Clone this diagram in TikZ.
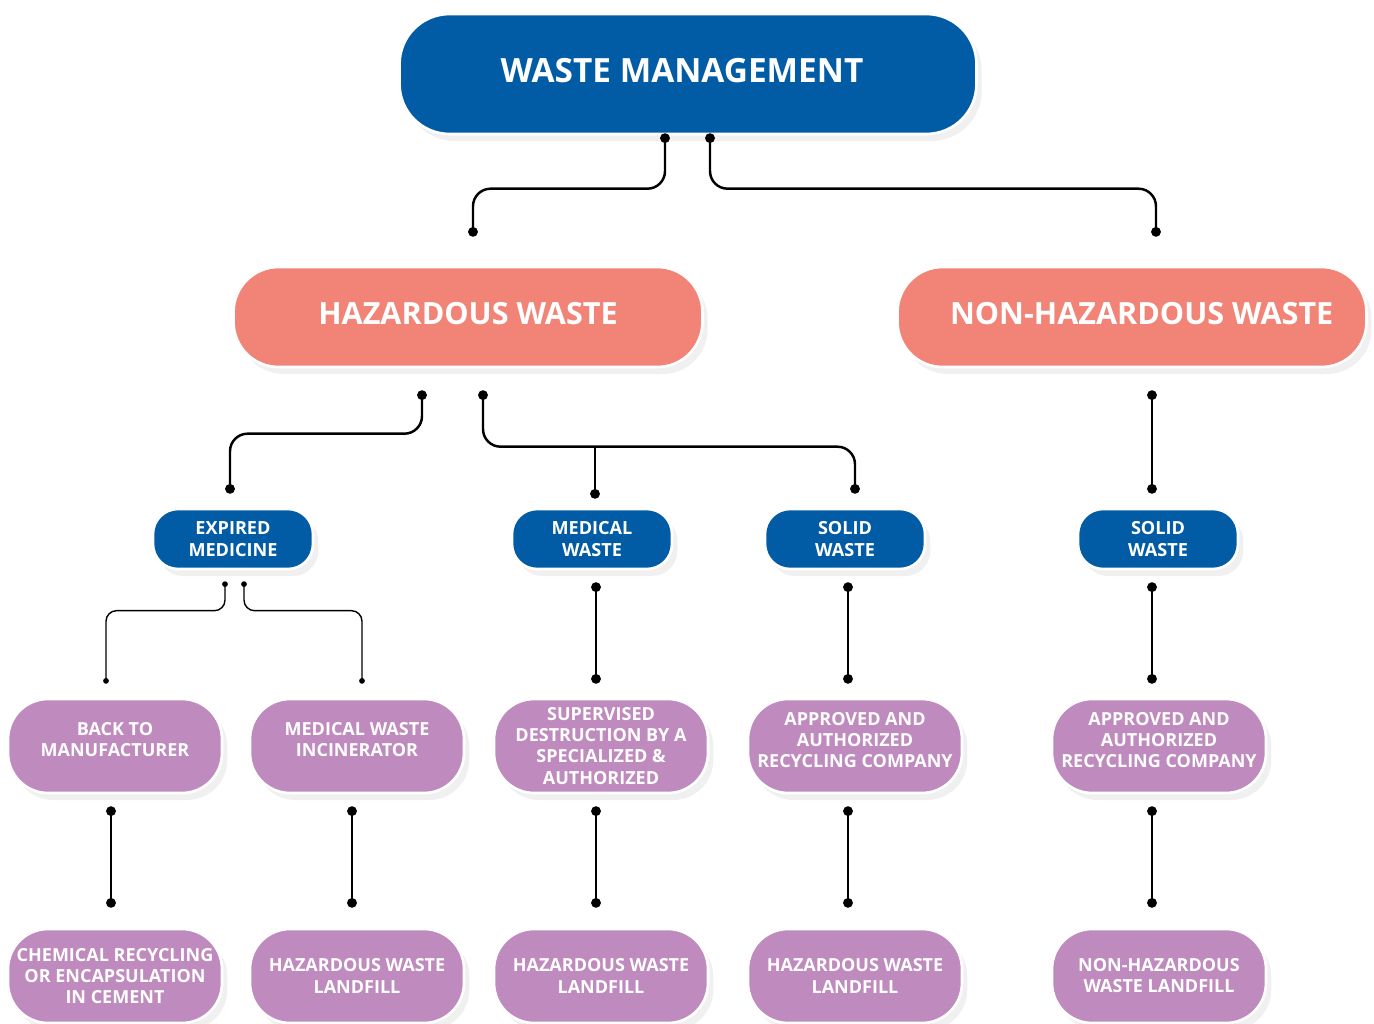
\documentclass[tikz,border=0pt]{standalone}
\usepackage{fontspec}
\setmainfont{Open Sans}
\usetikzlibrary{calc,arrows.meta,shadows}

\definecolor{wmblue}{RGB}{2,92,165}
\definecolor{wmsalmon}{RGB}{241,132,118}
\definecolor{wmpurple}{RGB}{191,138,189}

\begin{document}
\begin{tikzpicture}[
    x=0.02cm, y=-0.02cm,
    pill/.style={draw=white, line width=1.5pt, text=white, align=center, inner sep=0pt,
        font=\bfseries, drop shadow={opacity=0.12, shadow xshift=3pt, shadow yshift=-4pt}},
    mainbox/.style={pill, fill=wmblue, minimum width=11.54cm, minimum height=2.4cm,
        rounded corners=1cm, font=\fontsize{19}{23}\bfseries},
    groupbox/.style={pill, fill=wmsalmon, minimum width=9.38cm, minimum height=2cm,
        rounded corners=0.9cm, font=\fontsize{17.4}{20}\bfseries},
    typebox/.style={pill, fill=wmblue, minimum width=3.2cm, minimum height=1.2cm,
        rounded corners=0.5cm, font=\fontsize{10.3}{12.5}\bfseries},
    stepbox/.style={pill, fill=wmpurple, minimum width=4.28cm, minimum height=1.88cm,
        rounded corners=0.8cm, font=\fontsize{10.25}{12}\bfseries},
    link/.style={line width=1.4pt, {Circle[length=5.5pt]}-{Circle[length=5.5pt]}},
    branch/.style={line width=1.4pt, -{Circle[length=5.5pt]}},
    thinlink/.style={line width=0.8pt, {Circle[length=3.2pt]}-{Circle[length=3.2pt]}}
]
    \useasboundingbox (0,0) rectangle (1374,1024);

    % Top level
    \node[mainbox, text depth=4.6pt] (wm) at (688,74) {WASTE MANAGEMENT\hspace*{6.8pt}};

    % Waste groups
    \node[groupbox, text depth=4pt] (haz) at (468,317) {HAZARDOUS WASTE};
    \node[groupbox, text depth=4pt] (nonhaz) at (1132,317) {\hspace*{11pt}NON-HAZARDOUS WASTE};

    % Waste types
    \node[typebox] (expired) at (233,539) {EXPIRED\\MEDICINE};
    \node[typebox] (medical) at (592,539) {MEDICAL\\WASTE};
    \node[typebox] (solid) at (845,539) {SOLID\\WASTE};
    \node[typebox] (solidnh) at (1158,539) {SOLID\\WASTE};

    % Treatment
    \node[stepbox, text depth=7pt] (back) at (115,746) {BACK TO\\MANUFACTURER};
    \node[stepbox, text depth=7pt] (incin) at (357,746) {MEDICAL WASTE\\INCINERATOR};
    \node[stepbox] (superv) at (601,746) {SUPERVISED\\DESTRUCTION BY A\\SPECIALIZED \&\\AUTHORIZED};
    \node[stepbox, text depth=7pt] (approved) at (855,746) {APPROVED AND\\AUTHORIZED\\RECYCLING COMPANY};
    \node[stepbox, text depth=7pt] (approvednh) at (1159,746) {APPROVED AND\\AUTHORIZED\\RECYCLING COMPANY};

    % Disposal
    \node[stepbox] (chem) at (115,976) {CHEMICAL RECYCLING\\OR ENCAPSULATION\\IN CEMENT};
    \node[stepbox] (fillA) at (357,976) {HAZARDOUS WASTE\\LANDFILL};
    \node[stepbox] (fillB) at (601,976) {HAZARDOUS WASTE\\LANDFILL};
    \node[stepbox] (fillC) at (855,976) {HAZARDOUS WASTE\\LANDFILL};
    \node[stepbox] (fillD) at (1159,976) {NON-HAZARDOUS\\WASTE LANDFILL};

    % Connectors from the top
    \draw[link, rounded corners=10pt] ($(wm.south)+(-23,-2)$) |- ($(haz.north)+(5,-77)$) -- ($(haz.north)+(5,-29)$);
    \draw[link, rounded corners=10pt] ($(wm.south)+(22,-2)$) |- ($(nonhaz.north)+(24,-77)$) -- ($(nonhaz.north)+(24,-29)$);

    % Hazardous branches
    \draw[link, rounded corners=10pt] ($(haz.south)+(-46,22)$) |- ($(expired.north)+(-3,-74)$) -- ($(expired.north)+(-3,-14)$);
    \draw[link, rounded corners=10pt] ($(haz.south)+(15,22)$) |- ($(solid.north)+(10,-61)$) -- ($(solid.north)+(10,-14)$);
    \coordinate (split) at ($(medical.north)+(3,-61)$);
    \draw[branch] (split) -- ($(medical.north)+(3,-9)$);
    \draw[link] ($(nonhaz.south)+(20,22)$) -- ($(solidnh.north)+(-6,-14)$);

    % Expired medicine
    \draw[thinlink, rounded corners=6pt] ($(expired.south)+(-8,11)$) |- ($(back.north)+(-9,-87)$) -- ($(back.north)+(-9,-14)$);
    \draw[thinlink, rounded corners=6pt] ($(expired.south)+(11,11)$) |- ($(incin.north)+(5,-87)$) -- ($(incin.north)+(5,-14)$);

    \draw[link] ($(medical.south)+(4,12)$) -- ($(superv.north)+(-5,-14)$);
    \draw[link] ($(solid.south)+(3,12)$) -- ($(approved.north)+(-7,-14)$);
    \draw[link] ($(solidnh.south)+(-6,12)$) -- ($(approvednh.north)+(-7,-14)$);

    % To disposal
    \draw[link] ($(back.south)+(-4,12)$) -- ($(chem.north)+(-4,-20)$);
    \draw[link] ($(incin.south)+(-5,12)$) -- ($(fillA.north)+(-5,-20)$);
    \draw[link] ($(superv.south)+(-5,12)$) -- ($(fillB.north)+(-5,-20)$);
    \draw[link] ($(approved.south)+(-7,12)$) -- ($(fillC.north)+(-7,-20)$);
    \draw[link] ($(approvednh.south)+(-7,12)$) -- ($(fillD.north)+(-7,-20)$);
\end{tikzpicture}
\end{document}
